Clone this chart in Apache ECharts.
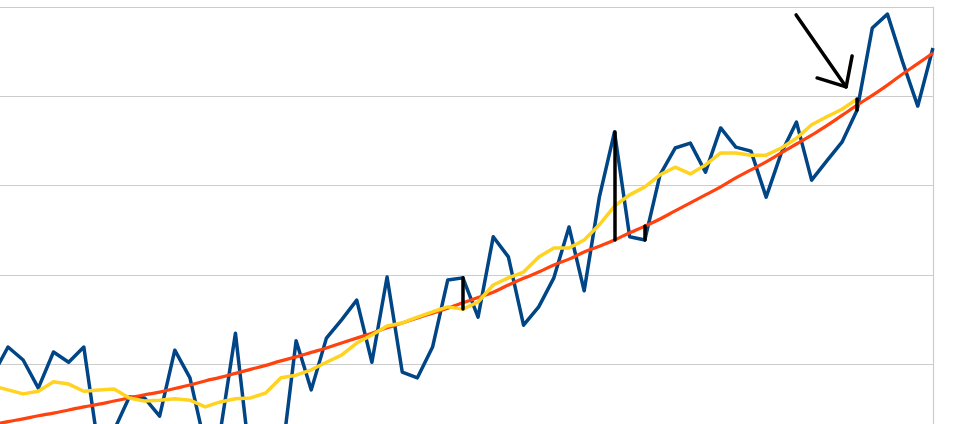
<!DOCTYPE html>
<html>
<head>
<meta charset="utf-8">
<script src="https://cdn.jsdelivr.net/npm/echarts@6/dist/echarts.min.js"></script>
<style>
  html, body { margin: 0; padding: 0; background: #ffffff; }
  #chart { width: 960px; height: 424px; }
</style>
</head>
<body>
<div id="chart"></div>
<script>
// Categories: years (the first one lies just off the left edge)
var years = [];
for (var yr = 1957; yr <= 2019; yr++) years.push(String(yr));

// Annual values (blue)
var annual = [
  -0.025, 0.038, 0.009, -0.054, 0.027, 0.004, 0.038, -0.197, -0.148, -0.074,
  -0.076, -0.117, 0.031, -0.031, -0.182, -0.152, 0.069, -0.229, -0.204, -0.226,
  0.052, -0.058, 0.058, 0.099, 0.143, 0.004, 0.195, -0.018, -0.031, 0.038,
  0.188, 0.193, 0.105, 0.285, 0.240, 0.087, 0.128, 0.193, 0.307, 0.164,
  0.374, 0.520, 0.285, 0.278, 0.424, 0.484, 0.495, 0.430, 0.529, 0.486,
  0.477, 0.374, 0.473, 0.542, 0.412, 0.455, 0.497, 0.569, 0.753, 0.784,
  0.677, 0.578, 0.708
];

// Moving average (yellow)
var movingAvg = [
  -0.049, -0.058, -0.067, -0.061, -0.040, -0.045, -0.061, -0.058, -0.056, -0.076,
  -0.083, -0.081, -0.078, -0.081, -0.096, -0.085, -0.078, -0.076, -0.065, -0.031,
  -0.025, -0.013, 0.004, 0.020, 0.047, 0.065, 0.085, 0.092, 0.105, 0.117,
  0.128, 0.123, 0.139, 0.177, 0.193, 0.206, 0.240, 0.260, 0.260, 0.278,
  0.312, 0.354, 0.379, 0.397, 0.424, 0.441, 0.426, 0.446, 0.473, 0.473,
  0.468, 0.468, 0.484, 0.506, 0.536, 0.554, 0.571, 0.594,
  null, null, null, null, null
];

// Fitted curve (orange)
var fitted = [
  -0.136, -0.129, -0.123, -0.116, -0.110, -0.103, -0.096, -0.090, -0.083, -0.076,
  -0.069, -0.063, -0.055, -0.047, -0.038, -0.030, -0.021, -0.012, -0.003, 0.007,
  0.016, 0.026, 0.036, 0.047, 0.058, 0.069, 0.081, 0.092, 0.103, 0.114,
  0.125, 0.137, 0.149, 0.161, 0.177, 0.192, 0.206, 0.222, 0.235, 0.251,
  0.264, 0.278, 0.294, 0.309, 0.325, 0.343, 0.361, 0.379, 0.397, 0.417,
  0.435, 0.453, 0.473, 0.493, 0.513, 0.534, 0.557, 0.580, 0.602, 0.625,
  0.650, 0.673, 0.697
];

// Axis settings
var yMin = -0.4, yMax = 0.8, yStep = 0.2;

// Hand-drawn vertical marks: [category index, from series, to series]
function idx(year) { return years.indexOf(String(year)); }
var marks = [
  [idx(1988), annual, movingAvg],
  [idx(1998), annual, fitted],
  [idx(2000), fitted, annual],
  [idx(2014), movingAvg, annual]
];

var chart = echarts.init(document.getElementById('chart'), null, { renderer: 'canvas' });

var markData = marks.map(function (m) {
  var i = m[0];
  return [
    { coord: [years[i], m[1][i]] },
    { coord: [years[i], m[2][i]] }
  ];
});

chart.setOption({
  animation: false,
  backgroundColor: '#ffffff',
  grid: {
    left: -7.16, top: 7, width: 940.1, height: 535.5,
    containLabel: false, outerBoundsMode: 'none'
  },
  xAxis: {
    type: 'category',
    data: years,
    boundaryGap: false,
    axisLine: { show: false },
    axisTick: { show: false },
    axisLabel: { show: false },
    splitLine: { show: false }
  },
  yAxis: {
    type: 'value',
    position: 'right',
    min: yMin, max: yMax, interval: yStep,
    axisLine: { show: true, lineStyle: { color: '#cccccc', width: 1.2 } },
    axisTick: { show: false },
    axisLabel: { show: false },
    splitLine: { show: true, lineStyle: { color: '#cccccc', width: 1.2 } }
  },
  series: [
    {
      name: 'annual', type: 'line', data: annual, symbol: 'none', smooth: false,
      lineStyle: { color: '#004586', width: 3.5, join: 'round' }, z: 2
    },
    {
      name: 'fit', type: 'line', data: fitted, symbol: 'none', smooth: true,
      lineStyle: { color: '#ff420e', width: 3.2 }, z: 3
    },
    {
      name: 'avg', type: 'line', data: movingAvg, symbol: 'none', smooth: false,
      lineStyle: { color: '#ffd320', width: 3.5, join: 'round' }, z: 4,
      markLine: {
        silent: true, symbol: ['none', 'none'], label: { show: false },
        lineStyle: { color: '#000000', width: 3.5, type: 'solid', cap: 'round' },
        emphasis: { disabled: true },
        data: markData
      }
    }
  ]
});

// Arrow annotation pointing at the end of the moving average
var endIdx = idx(2014);
var anchor = chart.convertToPixel({ gridIndex: 0 }, [endIdx, movingAvg[endIdx]]);
function p(dx, dy) { return [anchor[0] + dx, anchor[1] + dy]; }
var arrowStyle = { stroke: '#000000', lineWidth: 3.5, lineCap: 'round', lineJoin: 'round', fill: null };
chart.setOption({
  graphic: [
    { type: 'polyline', shape: { points: [p(-61, -84), p(-11, -12)] }, style: arrowStyle, z: 10 },
    { type: 'polyline', shape: { points: [p(-5, -43), p(-11, -12), p(-40, -21)] }, style: arrowStyle, z: 10 }
  ]
});
</script>
</body>
</html>
